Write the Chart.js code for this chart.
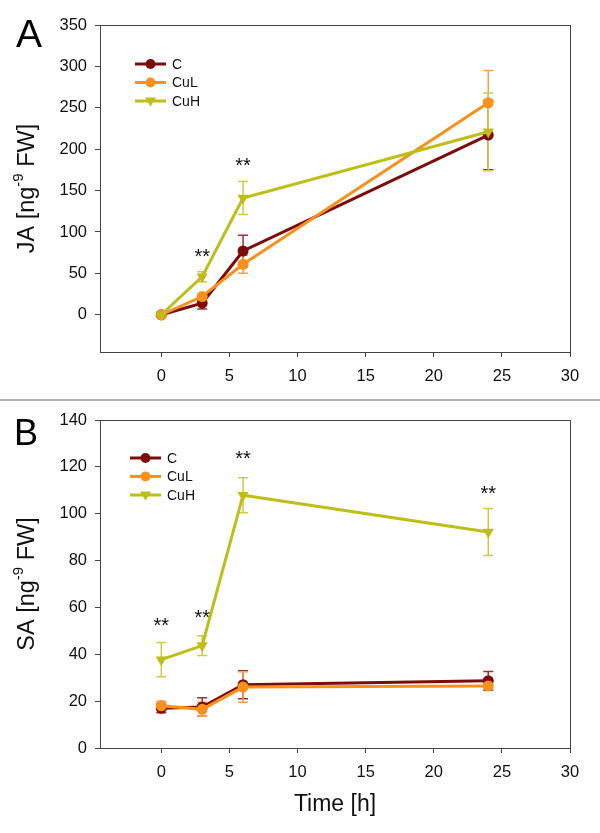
<!DOCTYPE html>
<html><head><meta charset="utf-8">
<script src="https://cdn.jsdelivr.net/npm/chart.js@4/dist/chart.umd.min.js"></script>
<style>
html,body{margin:0;padding:0;background:#fff;}
#wrap{position:relative;width:600px;height:833px;overflow:hidden;}
#ca{position:absolute;left:0;top:0;}
#cb{position:absolute;left:0;top:400px;}
#sep{position:absolute;left:0;top:399px;width:600px;height:2px;background:#b4b4b4;}
</style></head><body>
<div id="wrap">
<canvas id="ca" width="600" height="399"></canvas>
<div id="sep"></div>
<canvas id="cb" width="600" height="433"></canvas>
</div>
<script>
// ---- data ----
const times = [0, 3, 6, 24];
const seriesNames = ['C', 'CuL', 'CuH'];
// Panel A: JA
const jaC = [0, 14, 77, 217];
const jaCErr = [1, 7, 19, 42];
const jaCuL = [0, 22, 61, 256];
const jaCuLErr = [1, 3, 11, 39];
const jaCuH = [0, 46, 141, 221];
const jaCuHErr = [1, 6, 20, 47];
const sigATimes = [3, 6];
const sigAY = [75, 185];
// Panel B: SA
const saC = [17, 17.5, 27, 28.7];
const saCErr = [2, 4, 6, 4];
const saCuL = [18, 16.5, 26, 26.5];
const saCuLErr = [2, 3, 6.5, 1.5];
const saCuH = [37.7, 43.7, 107.9, 92.2];
const saCuHErr = [7.3, 4.2, 7.5, 10];
const sigBTimes = [0, 3, 6, 24];
const sigBY = [54, 57, 125, 110];
// tick values
const xTicks = [0, 5, 10, 15, 20, 25, 30];

const FONT = "'Liberation Sans', Arial, Helvetica, sans-serif";
Chart.defaults.font.family = FONT;
const COLORS = ['#7d0b0b', '#f8901c', '#bdbe18'];
const ERRCOLORS = ['#9a3030', '#f4a050', '#cccc45'];

function mkData(vals, errs) {
  return vals.map((v, i) => ({ x: times[i], y: v, e: errs[i] }));
}

const errorBars = {
  id: 'errorBars',
  beforeDatasetsDraw(chart) {
    const ctx = chart.ctx, xs = chart.scales.x, ys = chart.scales.y;
    chart.data.datasets.forEach((ds, di) => {
      ctx.save();
      ctx.strokeStyle = ERRCOLORS[di];
      ctx.lineWidth = 1.5;
      ds.data.forEach(p => {
        const px = xs.getPixelForValue(p.x);
        const t = ys.getPixelForValue(p.y + p.e);
        const b = ys.getPixelForValue(p.y - p.e);
        ctx.beginPath();
        ctx.moveTo(px, t); ctx.lineTo(px, b);
        ctx.moveTo(px - 5, t); ctx.lineTo(px + 5, t);
        ctx.moveTo(px - 5, b); ctx.lineTo(px + 5, b);
        ctx.stroke();
      });
      ctx.restore();
    });
  }
};

const decor = {
  id: 'decor',
  afterDraw(chart, args, opts) {
    const ctx = chart.ctx, ca = chart.chartArea, xs = chart.scales.x, ys = chart.scales.y;
    ctx.save();
    // frame
    ctx.strokeStyle = '#444'; ctx.lineWidth = 1;
    ctx.strokeRect(Math.round(ca.left) + 0.5, Math.round(ca.top) + 0.5, Math.round(ca.right - ca.left), Math.round(ca.bottom - ca.top));
    // significance
    ctx.fillStyle = '#111';
    ctx.font = '20px ' + FONT;
    ctx.textAlign = 'center'; ctx.textBaseline = 'middle';
    opts.sigX.forEach((t, i) => {
      ctx.fillText('**', xs.getPixelForValue(t), ys.getPixelForValue(opts.sigY[i]) + 4.5);
    });
    // legend
    ctx.font = '14px ' + FONT;
    ctx.textAlign = 'left';
    seriesNames.forEach((n, i) => {
      const y = opts.legY + i * 18.5;
      ctx.strokeStyle = COLORS[i]; ctx.lineWidth = 3;
      ctx.beginPath(); ctx.moveTo(opts.legX, y); ctx.lineTo(opts.legX + 31, y); ctx.stroke();
      ctx.fillStyle = COLORS[i];
      const cx = opts.legX + 15.5;
      ctx.beginPath();
      if (i < 2) { ctx.arc(cx, y, 5, 0, Math.PI * 2); }
      else { ctx.moveTo(cx - 5.5, y - 3.5); ctx.lineTo(cx + 5.5, y - 3.5); ctx.lineTo(cx, y + 5.5); ctx.closePath(); }
      ctx.fill();
      ctx.fillStyle = '#111';
      ctx.fillText(n, opts.legX + 37, y + 1);
    });
    // panel letter
    ctx.font = opts.letterSize + 'px ' + FONT;
    ctx.textAlign = 'left'; ctx.textBaseline = 'alphabetic';
    ctx.fillStyle = '#000';
    ctx.fillText(opts.letter, opts.letterX, opts.letterY);
    // y title with superscript
    ctx.translate(opts.ytX, (ca.top + ca.bottom) / 2);
    ctx.rotate(-Math.PI / 2);
    const big = '23.5px ' + FONT, small = '15px ' + FONT;
    const p1 = opts.ytPrefix + ' [ng', p2 = '-9', p3 = ' FW]';
    ctx.font = big; const w1 = ctx.measureText(p1).width, w3 = ctx.measureText(p3).width;
    ctx.font = small; const w2 = ctx.measureText(p2).width;
    let x0 = -(w1 + w2 + w3) / 2;
    ctx.textBaseline = 'middle'; ctx.fillStyle = '#111';
    ctx.font = big; ctx.fillText(p1, x0, 0);
    ctx.font = small; ctx.fillText(p2, x0 + w1, -9);
    ctx.font = big; ctx.fillText(p3, x0 + w1 + w2, 0);
    ctx.restore();
    // x title
    if (opts.xTitle) {
      ctx.save();
      ctx.font = '23px ' + FONT; ctx.fillStyle = '#111';
      ctx.textAlign = 'center'; ctx.textBaseline = 'middle';
      ctx.fillText(opts.xTitle, (ca.left + ca.right) / 2, opts.xTitleY);
      ctx.restore();
    }
  }
};

function makeChart(id, sets, yMin, yMax, yStep, xHeight, padTop, decorOpts) {
  return new Chart(document.getElementById(id), {
    type: 'line',
    data: {
      datasets: sets.map((s, i) => ({
        label: seriesNames[i],
        data: mkData(s[0], s[1]),
        borderColor: COLORS[i],
        backgroundColor: COLORS[i],
        borderWidth: 3,
        pointStyle: i < 2 ? 'circle' : 'triangle',
        rotation: i < 2 ? 0 : 180,
        pointRadius: i < 2 ? 5.5 : 6.5,
        pointBorderWidth: 0,
        order: 2 - i,
        tension: 0
      }))
    },
    options: {
      responsive: false,
      animation: false,
      events: [],
      layout: { padding: { top: padTop, right: 30, left: 0, bottom: 0 } },
      plugins: { legend: { display: false }, tooltip: { enabled: false }, decor: decorOpts },
      scales: {
        x: {
          type: 'linear', min: -4.5, max: 30,
          afterBuildTicks(s) { s.ticks = xTicks.map(v => ({ value: v })); },
          afterFit(s) { s.height = xHeight; },
          grid: { drawOnChartArea: false, drawTicks: true, tickLength: 5, color: '#444' },
          border: { display: true, color: '#444', width: 1 },
          ticks: { font: { size: 16.5 }, color: '#111', padding: 10, maxRotation: 0 }
        },
        y: {
          type: 'linear', min: yMin, max: yMax,
          afterBuildTicks(s) {
            const t = []; for (let v = 0; v <= yMax + 1e-9; v += yStep) t.push({ value: v });
            s.ticks = t;
          },
          afterFit(s) { s.width = 100; },
          grid: { drawOnChartArea: false, drawTicks: true, tickLength: 5, color: '#444' },
          border: { display: true, color: '#444', width: 1 },
          ticks: { font: { size: 16.5 }, color: '#111', padding: 8 }
        }
      }
    },
    plugins: [errorBars, decor]
  });
}

makeChart('ca', [[jaC, jaCErr], [jaCuL, jaCuLErr], [jaCuH, jaCuHErr]], -45, 350, 50, 47, 25,
  { sigX: sigATimes, sigY: sigAY, legX: 135, legY: 64, letter: 'A', letterSize: 39, letterX: 16, letterY: 47, ytX: 28, ytPrefix: 'JA' });
makeChart('cb', [[saC, saCErr], [saCuL, saCuLErr], [saCuH, saCuHErr]], 0, 140, 20, 85, 20,
  { sigX: sigBTimes, sigY: sigBY, legX: 130, legY: 58, letter: 'B', letterSize: 36, letterX: 14, letterY: 45, ytX: 28, ytPrefix: 'SA', xTitle: 'Time [h]', xTitleY: 405 });
</script>
</body></html>
